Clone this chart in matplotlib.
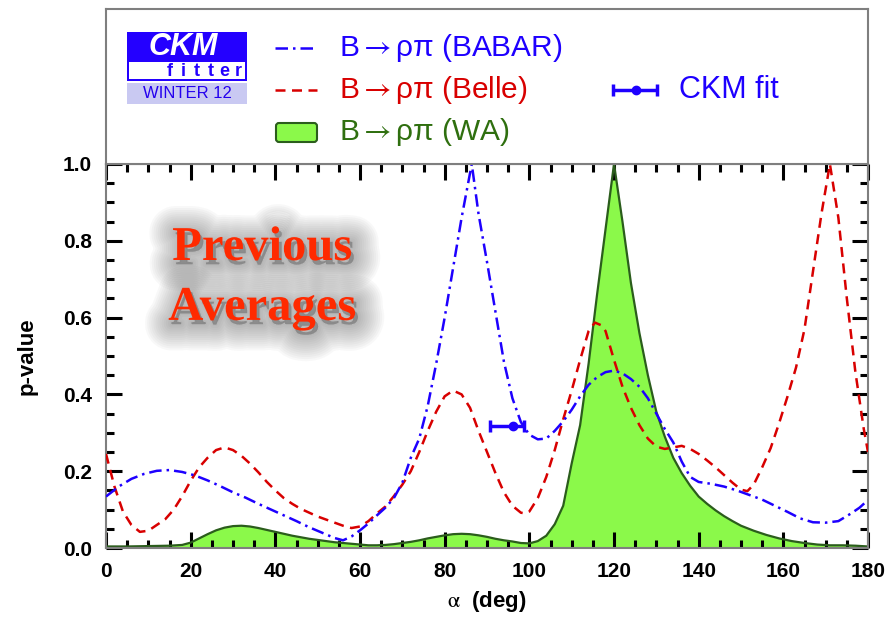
import matplotlib.pyplot as plt
import matplotlib.patheffects as pe
from matplotlib.patches import Rectangle, FancyBboxPatch
from matplotlib.ticker import MultipleLocator, FormatStrFormatter

plt.rcParams['font.family'] = ['Liberation Sans', 'DejaVu Sans']
plt.rcParams['mathtext.fontset'] = 'stix'

# p-value scans versus alpha (deg)
alpha_babar = [0, 3, 6, 9, 12, 15, 18, 21, 24, 27, 30, 33, 36, 39, 42, 45, 48,
               51, 54, 56, 58, 60, 62, 64, 66, 68, 70, 72, 74, 76, 78, 80, 82,
               84, 86.4, 88, 90, 92, 94, 96, 98, 100, 102, 104, 106, 108, 110,
               112, 114, 116, 118, 120, 122, 124, 126, 128, 130, 132, 134, 136,
               138, 140, 143, 146, 149, 152, 155, 158, 161, 164, 167, 170, 173,
               176, 178, 180]
pval_babar = [0.134, 0.16, 0.18, 0.193, 0.201, 0.203, 0.198, 0.189, 0.176,
              0.161, 0.145, 0.131, 0.115, 0.100, 0.085, 0.070, 0.054, 0.040,
              0.026, 0.020, 0.030, 0.046, 0.064, 0.085, 0.105, 0.13, 0.17,
              0.235, 0.285, 0.37, 0.48, 0.60, 0.73, 0.86, 1.0, 0.87, 0.745,
              0.615, 0.485, 0.39, 0.328, 0.295, 0.283, 0.285, 0.305, 0.33,
              0.36, 0.395, 0.425, 0.445, 0.458, 0.462, 0.455, 0.44, 0.42,
              0.39, 0.35, 0.31, 0.275, 0.225, 0.185, 0.172, 0.167, 0.16, 0.15,
              0.138, 0.126, 0.11, 0.094, 0.077, 0.067, 0.066, 0.07, 0.09,
              0.105, 0.125]

alpha_belle = [0, 2, 4, 6, 8, 10, 12, 14, 16, 18, 20, 22, 24, 26, 28, 30, 32,
               34, 36, 38, 40, 42, 44, 46, 48, 50, 52, 54, 56, 58, 60, 62, 64,
               66, 68, 70, 72, 74, 76, 78, 80, 82, 84, 86, 88, 90, 92, 94, 96,
               98, 99, 100, 102, 104, 106, 108, 110, 112, 114, 115.5, 117, 118,
               120, 122, 124, 126, 128, 130, 132, 134, 136, 138, 140, 142, 144,
               146, 148, 150, 151.5, 153, 155, 157, 159, 161, 163, 165, 167,
               169, 171, 173, 175, 177, 179, 180]
pval_belle = [0.245, 0.16, 0.095, 0.06, 0.042, 0.045, 0.06, 0.075, 0.10, 0.135,
              0.175, 0.21, 0.235, 0.255, 0.262, 0.255, 0.24, 0.22, 0.197,
              0.172, 0.15, 0.13, 0.115, 0.102, 0.092, 0.082, 0.074, 0.066,
              0.058, 0.052, 0.056, 0.07, 0.09, 0.108, 0.135, 0.165, 0.2, 0.25,
              0.305, 0.355, 0.395, 0.41, 0.4, 0.365, 0.305, 0.25, 0.195, 0.145,
              0.11, 0.092, 0.09, 0.095, 0.13, 0.185, 0.255, 0.335, 0.41, 0.49,
              0.565, 0.587, 0.58, 0.565, 0.49, 0.42, 0.365, 0.32, 0.285, 0.264,
              0.258, 0.262, 0.266, 0.258, 0.245, 0.228, 0.21, 0.19, 0.17,
              0.152, 0.148, 0.165, 0.21, 0.26, 0.325, 0.395, 0.47, 0.57, 0.72,
              0.87, 1.0, 0.86, 0.65, 0.46, 0.31, 0.25]

alpha_wa = [0, 5, 10, 15, 18, 20, 22, 24, 26, 28, 30, 32, 34, 36, 38, 40, 42,
            44, 46, 48, 50, 52, 54, 56, 58, 60, 62, 64, 66, 68, 70, 72, 74, 76,
            78, 80, 82, 84, 86, 88, 90, 92, 94, 96, 98, 100, 102, 104, 106,
            108, 110, 112, 114, 116, 118, 120, 122, 124, 126, 128, 130, 132,
            134, 136, 138, 140, 142, 144, 146, 148, 150, 153, 156, 159, 162,
            165, 168, 171, 174, 177, 180]
pval_wa = [0.004, 0.004, 0.005, 0.006, 0.008, 0.014, 0.025, 0.036, 0.046,
           0.053, 0.057, 0.058, 0.056, 0.052, 0.047, 0.042, 0.037, 0.032,
           0.028, 0.024, 0.021, 0.018, 0.015, 0.013, 0.011, 0.009, 0.007,
           0.007, 0.008, 0.01, 0.013, 0.016, 0.02, 0.025, 0.029, 0.033, 0.036,
           0.037, 0.036, 0.033, 0.029, 0.024, 0.02, 0.017, 0.013, 0.012, 0.018,
           0.032, 0.062, 0.11, 0.22, 0.32, 0.48, 0.66, 0.83, 1.0, 0.85, 0.69,
           0.56, 0.45, 0.355, 0.29, 0.235, 0.195, 0.162, 0.134, 0.115, 0.098,
           0.083, 0.07, 0.058, 0.045, 0.034, 0.025, 0.018, 0.013, 0.009, 0.007,
           0.007, 0.006, 0.004]

# CKM fit result: central value and asymmetric errors
ckm_alpha = 96.2
ckm_err_lo = 5.6
ckm_err_hi = 2.5
ckm_pval = 0.319

blue = '#1e00ff'
red = '#d80000'
green_fill = '#8bf94a'
green_edge = '#2b5d1c'
green_text = '#2f6f0f'
frame = '#7f7f7f'

fig = plt.figure(figsize=(8.9, 6.19), dpi=100)
ax = fig.add_axes([106 / 890, 71 / 619, 762 / 890, 384 / 619])

ax.fill_between(alpha_wa, pval_wa, 0, facecolor=green_fill, edgecolor='none',
                zorder=1)
ax.plot(alpha_wa, pval_wa, color=green_edge, lw=1.6, zorder=2)
ax.plot(alpha_belle, pval_belle, color=red, lw=1.8, dashes=(4, 2.6), zorder=3)
ax.plot(alpha_babar, pval_babar, color=blue, lw=1.8, dashes=(5, 2, 1, 2),
        zorder=4)
ax.errorbar([ckm_alpha], [ckm_pval], xerr=[[ckm_err_lo], [ckm_err_hi]],
            fmt='o', color=blue, ms=6, elinewidth=2.5, capsize=4.5,
            capthick=2.5, zorder=5)

ax.set_xlim(0, 180)
ax.set_ylim(0, 1)
ax.xaxis.set_major_locator(MultipleLocator(20))
ax.xaxis.set_minor_locator(MultipleLocator(5))
ax.yaxis.set_major_locator(MultipleLocator(0.2))
ax.yaxis.set_minor_locator(MultipleLocator(0.05))
ax.xaxis.set_major_formatter(FormatStrFormatter('%d'))
ax.yaxis.set_major_formatter(FormatStrFormatter('%.1f'))
ax.tick_params(which='both', direction='in', top=True, right=True,
               color='black', width=2.2)
ax.tick_params(which='major', length=11.5, labelsize=15, pad=10)
ax.tick_params(which='minor', length=6)
for lab in ax.get_xticklabels() + ax.get_yticklabels():
    lab.set_fontweight('bold')
for sp in ax.spines.values():
    sp.set_color(frame)
    sp.set_linewidth(1.5)

ax.set_xlabel(r'$\mathrm{\alpha}$  (deg)', fontsize=16, fontweight='bold',
              labelpad=6)
ax.set_ylabel('p-value', fontsize=16, fontweight='bold', labelpad=18)

# soft grey shadow behind the overlay text, built from stacked faint strokes
shadow = [pe.SimplePatchShadow(offset=(2, -3), shadow_rgbFace='0.3',
                               alpha=0.035, linewidth=w, foreground='0.3',
                               joinstyle='round')
          for w in range(38, 0, -3)] + [pe.Normal()]
for txt, yb in (('Previous', 0.75), ('Averages', 0.594)):
    ax.text(0.205, yb, txt, transform=ax.transAxes, ha='center',
            va='baseline', fontsize=35, fontweight='bold', color='#ff2a00',
            family=['Liberation Serif', 'DejaVu Serif'], path_effects=shadow,
            zorder=6)

# legend box above the plot
axl = fig.add_axes([106 / 890, 455 / 619, 762 / 890, 155 / 619])
axl.set_xlim(107, 869)
axl.set_ylim(164, 9)
axl.set_xticks([])
axl.set_yticks([])
for sp in axl.spines.values():
    sp.set_color(frame)
    sp.set_linewidth(1.5)

# CKMfitter logo
axl.add_patch(Rectangle((128, 32), 120, 49, facecolor='#2400ff',
                        edgecolor='none'))
axl.add_patch(Rectangle((130, 62), 116, 17, facecolor='white',
                        edgecolor='none'))
axl.add_patch(Rectangle((128, 83), 120, 21, facecolor='#c9c9f2',
                        edgecolor='none'))
axl.text(184, 47, 'CKM', color='white', fontsize=22, fontweight='bold',
         fontstyle='italic', ha='center', va='center')
for i, ch in enumerate('fitter'):
    axl.text(171 + i * 13.6, 71, ch, color='#2400ff', fontsize=13,
             fontweight='bold', ha='center', va='center')
axl.text(188, 94, 'WINTER 12', color='#2400ee', fontsize=12, ha='center',
         va='center')

# legend entries
axl.plot([276, 318], [48, 48], color=blue, lw=1.8, dashes=(5, 2, 1, 2))
axl.plot([276, 318], [90, 90], color=red, lw=1.8, dashes=(4, 2.6))
axl.add_patch(FancyBboxPatch((277, 123), 41, 19,
                             boxstyle='round,pad=0,rounding_size=3',
                             facecolor=green_fill, edgecolor=green_edge,
                             lw=1.5))
arrow = r'$\rightarrow$'
axl.text(340, 48, 'B' + arrow + 'ρπ (BABAR)', color=blue, fontsize=21.5,
         va='center')
axl.text(340, 90, 'B' + arrow + 'ρπ (Belle)', color=red, fontsize=21.5,
         va='center')
axl.text(340, 132, 'B' + arrow + 'ρπ (WA)', color=green_text, fontsize=21.5,
         va='center')

axl.errorbar([637], [90], xerr=[[23], [21]], fmt='o', color=blue, ms=6,
             elinewidth=2.5, capsize=4.5, capthick=2.5)
axl.text(680, 90, 'CKM fit', color=blue, fontsize=22, va='center')

fig.savefig('out.png', dpi=100)
